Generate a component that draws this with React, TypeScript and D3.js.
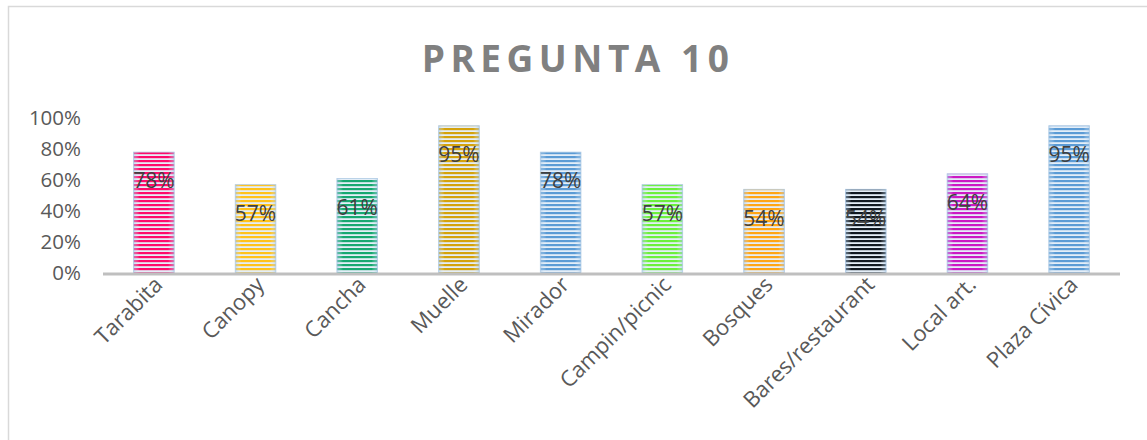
import React from 'react';
import * as d3 from 'd3';

const categories = ['Tarabita', 'Canopy', 'Cancha', 'Muelle', 'Mirador', 'Campin/picnic', 'Bosques', 'Bares/restaurant', 'Local art.', 'Plaza Cívica'];
const values = [0.78, 0.57, 0.61, 0.95, 0.78, 0.57, 0.54, 0.54, 0.64, 0.95];
const barColors = ['#ff0a6c', '#ffc21a', '#16a870', '#d4a20c', '#5b9bd5', '#6cf03c', '#ffa514', '#101820', '#cc19c4', '#5b9bd5'];
const yTicks = [0, 0.2, 0.4, 0.6, 0.8, 1];

const width = 1147;
const height = 440;
const marginLeft = 103;
const marginRight = 27;
const plotTop = 118;
const plotBottom = 273;

const App: React.FC = () => {
  const x = d3.scaleBand<string>()
    .domain(categories)
    .range([marginLeft, width - marginRight])
    .paddingInner(0.6)
    .paddingOuter(0.3);

  const y = d3.scaleLinear()
    .domain([0, 1])
    .range([plotBottom, plotTop]);

  const fmt = d3.format('.0%');

  return (
    <svg width={width} height={height} style={{ position: 'absolute', left: 0, top: 0, fontFamily: '"Open Sans", sans-serif' }}>
      <defs>
        {barColors.map((c, i) => (
          <pattern key={i} id={`stripe${i}`} patternUnits="userSpaceOnUse" width={8} height={4}>
            <rect width={8} height={4} fill="#e4eef8" />
            <rect y={0} width={8} height={2.2} fill={c} />
          </pattern>
        ))}
        <linearGradient id="edge" x1="0" x2="1" y1="0" y2="0">
          <stop offset="0" stopColor="#9dc3e6" stopOpacity={0.55} />
          <stop offset="0.15" stopColor="#ffffff" stopOpacity={0} />
          <stop offset="0.85" stopColor="#ffffff" stopOpacity={0} />
          <stop offset="1" stopColor="#9dc3e6" stopOpacity={0.55} />
        </linearGradient>
      </defs>

      <rect x={8.5} y={6.5} width={width + 10} height={height + 10} fill="#fff" stroke="#d9d9d9" strokeWidth={1.5} />

      <text x={578} y={72} textAnchor="middle" fontSize={37} fontWeight="bold" fill="#808080" letterSpacing={5.5}>
        PREGUNTA 10
      </text>

      {yTicks.map(t => (
        <text key={t} x={81} y={y(t)} dy="0.35em" textAnchor="end" fontSize={20.5} fill="#595959">
          {fmt(t)}
        </text>
      ))}

      {categories.map((c, i) => {
        const bx = x(c) as number;
        const bw = x.bandwidth();
        const top = y(values[i]);
        return (
          <g key={c}>
            <rect x={bx} y={top} width={bw} height={plotBottom - top} fill={`url(#stripe${i})`} />
            <rect x={bx} y={top} width={bw} height={plotBottom - top} fill="url(#edge)" stroke="#b4cde6" strokeWidth={0.8} />
            <text x={bx + bw / 2} y={top + 29} dy="0.35em" textAnchor="middle" fontSize={21} fill="#404040">
              {fmt(values[i])}
            </text>
          </g>
        );
      })}

      <line x1={marginLeft} x2={width - marginRight} y1={plotBottom + 1} y2={plotBottom + 1} stroke="#bfbfbf" strokeWidth={3} />

      {categories.map(c => {
        const cx = (x(c) as number) + x.bandwidth() / 2 + 10;
        return (
          <text key={c} transform={`translate(${cx},${plotBottom + 13}) rotate(-45)`} textAnchor="end" fontSize={22} fill="#595959">
            {c}
          </text>
        );
      })}
    </svg>
  );
};

export default App;
